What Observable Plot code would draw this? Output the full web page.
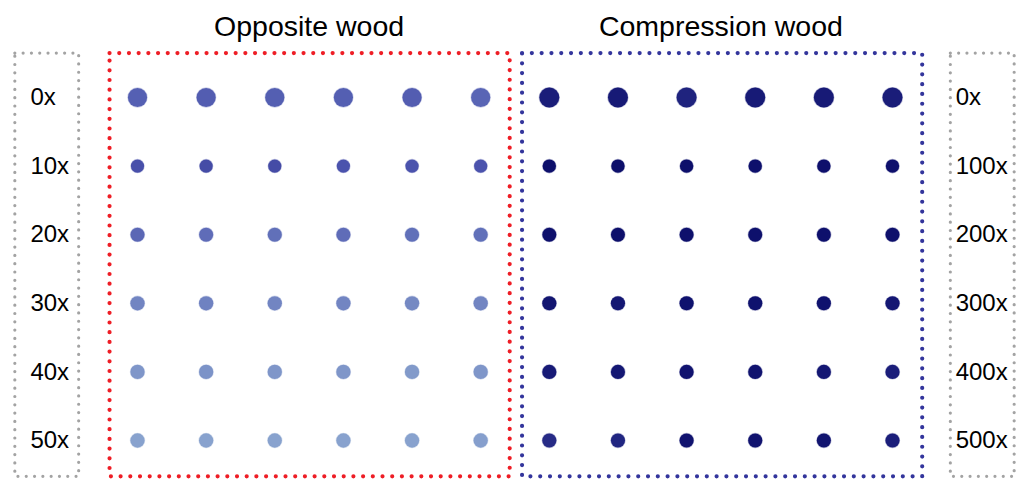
<!DOCTYPE html>
<html>
<head>
<meta charset="utf-8">
<script src="https://cdn.jsdelivr.net/npm/d3@7"></script>
<script src="https://cdn.jsdelivr.net/npm/@observablehq/plot@0.6"></script>
<style>
  html, body { margin: 0; padding: 0; background: #fff; }
  #chart svg { display: block; font-family: "Liberation Sans", Arial, sans-serif; }
</style>
</head>
<body>
<div id="chart"></div>
<script>
// ---- data ----
const panels = ["Opposite wood", "Compression wood"];
const rowLabelsOpposite = ["0x", "10x", "20x", "30x", "40x", "50x"];
const rowLabelsCompression = ["0x", "100x", "200x", "300x", "400x", "500x"];
const replicates = [1, 2, 3, 4, 5, 6];

// relative spot size per row (0..1)
const spotSizeOpposite = [0.92, 0.44, 0.5, 0.51, 0.51, 0.51];
const spotSizeCompression = [1.0, 0.45, 0.49, 0.5, 0.5, 0.5];

// spot intensity (0 = faint, 1 = dark), rows x replicates
const intensityOpposite = [
  [0.42, 0.44, 0.43, 0.43, 0.44, 0.39],
  [0.52, 0.55, 0.55, 0.50, 0.50, 0.50],
  [0.38, 0.35, 0.33, 0.35, 0.33, 0.33],
  [0.20, 0.22, 0.20, 0.20, 0.18, 0.20],
  [0.10, 0.12, 0.10, 0.10, 0.08, 0.10],
  [0.03, 0.03, 0.03, 0.03, 0.03, 0.05]
];
const intensityCompression = [
  [0.88, 0.90, 0.84, 0.90, 0.90, 0.88],
  [0.98, 0.98, 0.98, 0.97, 0.97, 0.97],
  [0.97, 0.98, 0.97, 0.97, 0.97, 0.97],
  [0.94, 0.92, 0.96, 0.96, 0.96, 0.92],
  [0.90, 0.92, 0.95, 0.95, 0.92, 0.87],
  [0.78, 0.82, 0.95, 0.95, 0.94, 0.87]
];

// ---- build tables ----
const spots = [];
[intensityOpposite, intensityCompression].forEach((mat, p) => {
  const sizes = p === 0 ? spotSizeOpposite : spotSizeCompression;
  mat.forEach((row, r) => row.forEach((v, c) => {
    spots.push({panel: panels[p], col: p * replicates.length + c, row: r, intensity: v, size: sizes[r]});
  }));
});
const n = replicates.length;
const labelsLeft = rowLabelsOpposite.map((t, i) => ({t, row: i}));
const labelsRight = rowLabelsCompression.map((t, i) => ({t, row: i}));
const titles = panels.map((t, p) => ({t, col: p * n + (n - 1) / 2}));

const boxTop = -0.64, boxBottom = 5.53;
const panelBoxes = [
  {x1: -0.4, x2: n - 1 + 0.43, y1: boxTop, y2: boxBottom, c: "#ee1d25"},
  {x1: n - 0.39, x2: 2 * n - 1 + 0.44, y1: boxTop, y2: boxBottom, c: "#33359c"}
];
const labelBoxes = [
  {x1: -1.78, x2: -0.85, y1: boxTop, y2: boxBottom},
  {x1: 2 * n - 1 + 0.85, x2: 2 * n - 1 + 1.78, y1: boxTop, y2: boxBottom}
];

const chart = Plot.plot({
  width: 1024,
  height: 492,
  marginLeft: 137,
  marginRight: 132,
  marginTop: 97,
  marginBottom: 52,
  x: {domain: [0, 2 * n - 1], axis: null},
  y: {domain: [0, n - 1], axis: null, reverse: true},
  r: {type: "sqrt", domain: [0, 1], range: [0, 10]},
  color: {type: "linear", domain: [0, 1],
    interpolate: d3.piecewise(d3.interpolateRgb, ["#8ca7d0", "#4b53ad", "#0a0c68"])},
  marks: [
    Plot.rect(labelBoxes, {x1: "x1", x2: "x2", y1: "y1", y2: "y2", fill: "none",
      stroke: "#a3a3a3", strokeWidth: 3.2, strokeDasharray: "0 8.3", strokeLinecap: "round"}),
    Plot.rect(panelBoxes.slice(0, 1), {x1: "x1", x2: "x2", y1: "y1", y2: "y2", fill: "none",
      stroke: "c", strokeWidth: 4.2, strokeDasharray: "0 9.7", strokeLinecap: "round"}),
    Plot.rect(panelBoxes.slice(1), {x1: "x1", x2: "x2", y1: "y1", y2: "y2", fill: "none",
      stroke: "c", strokeWidth: 4.2, strokeDasharray: "0 9.8", strokeLinecap: "round"}),
    Plot.dot(spots, {x: "col", y: "row", r: "size", fill: "intensity",
      stroke: "intensity", strokeOpacity: 0.3, strokeWidth: 1.2}),
    Plot.text(labelsLeft, {x: () => -1.56, y: "row", text: "t", textAnchor: "start",
      fontSize: 24, fill: "#000"}),
    Plot.text(labelsRight, {x: () => 2 * n - 1 + 0.92, y: "row", text: "t", textAnchor: "start",
      fontSize: 24, fill: "#000"}),
    Plot.text(titles, {x: "col", y: () => -1.03, text: "t", fontSize: 28.5, fill: "#000"})
  ]
});
document.getElementById("chart").appendChild(chart);
</script>
</body>
</html>
